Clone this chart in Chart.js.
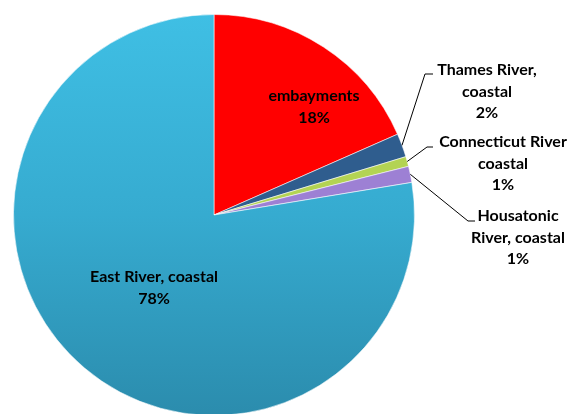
<!DOCTYPE html>
<html>
<head>
<meta charset="utf-8">
<script src="https://cdn.jsdelivr.net/npm/chart.js@4"></script>
<style>
  html, body { margin: 0; padding: 0; background: #fff; overflow: hidden; }
  #wrap { position: absolute; left: 0; top: 0; width: 569px; height: 430px; }
</style>
</head>
<body>
<div id="wrap"><canvas id="pieChart"></canvas></div>
<script>
// Share of load by source (percent), clockwise from 12 o'clock
const categories = ['embayments', 'Thames River, coastal', 'Connecticut River coastal', 'Housatonic River, coastal', 'East River, coastal'];
const shares = [18.4, 1.9, 0.8, 1.3, 77.6];
const shownPct = ['18%', '2%', '1%', '1%', '78%'];

// how each label is broken into lines, as drawn in the original
const labelLines = [
    ['embayments'],
    ['Thames River,', 'coastal'],
    ['Connecticut River', 'coastal'],
    ['Housatonic', 'River, coastal'],
    ['East River, coastal']
];

const sliceColors = ['#ff0000', '#2f5d8e', '#b3d353', '#9d80d4', null];

// label placement, offsets from the pie centre (px)
// elbow/end are for leader lines of the thin slices
const labelLayout = [
    { x: 100, y: -119 },
    { x: 273, y: -145, elbow: [211, -141], end: [219, -141] },
    { x: 289, y: -73, elbow: [213, -68], end: [219, -68] },
    { x: 304, y: 1, elbow: [254, 6], end: [261, 6] },
    { x: -60, y: 62 }
];

function sliceFill(context) {
    const i = context.dataIndex;
    if (sliceColors[i]) return sliceColors[i];
    const area = context.chart.chartArea;
    if (!area) return '#36a9cc';
    const g = context.chart.ctx.createLinearGradient(0, area.top, 0, area.bottom);
    g.addColorStop(0, '#3fbfe4');
    g.addColorStop(0.5, '#36abd0');
    g.addColorStop(1, '#2b8cad');
    return g;
}

const labelPlugin = {
    id: 'sliceLabels',
    afterDatasetsDraw(chart) {
        const ctx = chart.ctx;
        const meta = chart.getDatasetMeta(0);
        ctx.save();
        ctx.font = 'bold 16px Lato, "Open Sans", sans-serif';
        ctx.fillStyle = '#000';
        ctx.textAlign = 'center';
        ctx.textBaseline = 'middle';
        meta.data.forEach((arc, i) => {
            const lay = labelLayout[i];
            const cx = arc.x, cy = arc.y;
            if (lay.elbow) {
                const mid = (arc.startAngle + arc.endAngle) / 2;
                const r = arc.outerRadius;
                ctx.beginPath();
                ctx.strokeStyle = '#000';
                ctx.lineWidth = 1;
                ctx.moveTo(cx + r * Math.cos(mid), cy + r * Math.sin(mid));
                ctx.lineTo(cx + lay.elbow[0], cy + lay.elbow[1]);
                ctx.lineTo(cx + lay.end[0], cy + lay.end[1]);
                ctx.stroke();
            }
            const lines = labelLines[i].concat([shownPct[i]]);
            lines.forEach((t, k) => {
                ctx.fillText(t, cx + lay.x, cy + lay.y + k * 21.5);
            });
        });
        ctx.restore();
    }
};

function initChart() {
    const canvas = document.getElementById('pieChart');
    new Chart(canvas.getContext('2d'), {
        type: 'pie',
        data: {
            labels: categories,
            datasets: [{
                data: shares,
                backgroundColor: sliceFill,
                borderColor: 'rgba(255, 255, 255, 0.55)',
                borderWidth: 1
            }]
        },
        options: {
            responsive: true,
            maintainAspectRatio: false,
            animation: false,
            layout: { padding: { top: 14, bottom: 14, left: 13, right: 154 } },
            plugins: {
                legend: { display: false },
                tooltip: { enabled: false }
            }
        },
        plugins: [labelPlugin]
    });
}

document.addEventListener('DOMContentLoaded', initChart);
</script>
</body>
</html>
